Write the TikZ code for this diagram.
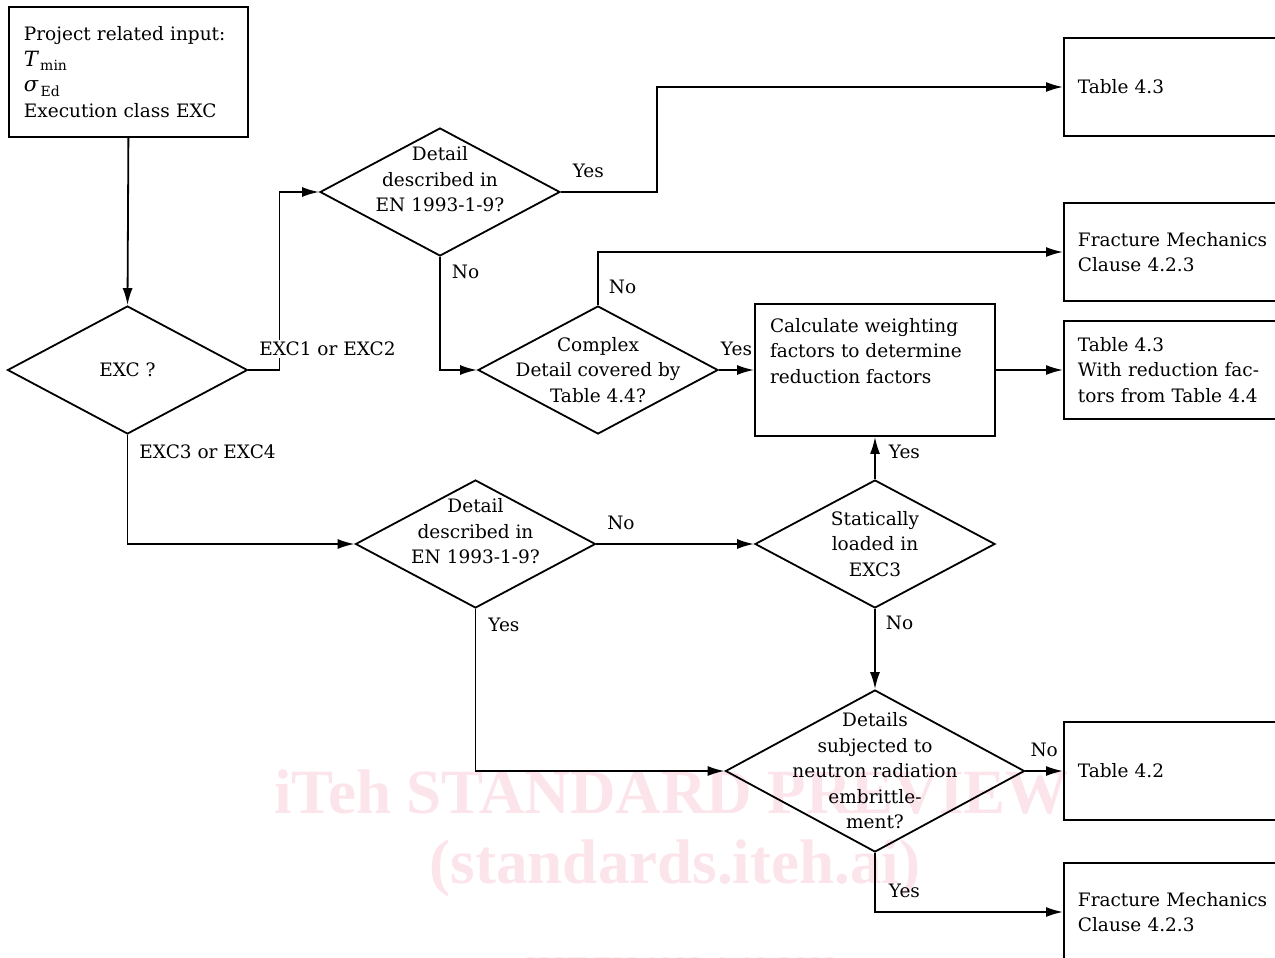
\documentclass[tikz,border=0pt]{standalone}
\usepackage{fontspec}
\setmainfont{DejaVu Serif}
\newfontfamily\wmfont{Liberation Serif}
\usetikzlibrary{shapes.geometric,arrows.meta}

\definecolor{wmpink}{RGB}{252,228,235}
\newcommand{\bigsym}[1]{{\fontsize{21}{21}\selectfont\itshape #1}}
\newcommand{\lowsub}[1]{\raisebox{-0.5ex}{\fontsize{14}{14}\selectfont\,#1}}

\tikzset{
  flow/.style={-{Latex[length=17pt,width=10pt]}},
  inbox/.style={draw, anchor=north west, minimum width=239pt, minimum height=130pt,
    text width=209pt, inner xsep=15pt, align=left},
  decision/.style={draw, diamond, minimum width=240pt, minimum height=128pt,
    inner sep=-30pt, align=center},
  calcbox/.style={draw, minimum width=240pt, minimum height=132pt, inner xsep=15pt, inner ysep=14pt},
  outbox/.style={draw, anchor=west, minimum height=98pt, text width=212pt,
    inner xsep=14pt, align=left},
  lbl/.style={inner sep=2pt},
  wm/.style={text=wmpink, font=\wmfont\bfseries\fontsize{63}{63}\selectfont}
}

\begin{document}
\begin{tikzpicture}[x=1pt, y=-1pt, line width=1.8pt, font=\fontsize{18.5}{25.5}\selectfont]
  \useasboundingbox (0,0) rectangle (1275,958);
  \clip (0,0) rectangle (1275,958);

  % watermark
  \node[wm, anchor=base west] (wm1) at (270,813) {iTeh STANDARD PREVIEW};
  \node[wm] (wm2) at (675,868) {(standards.iteh.ai)};
  \node[wm, font=\wmfont\bfseries\fontsize{30}{30}\selectfont, anchor=north] (wm3) at (680,953) {SIST EN 1993-1-10:2023};

  % boxes and decisions
  \node[inbox] (input) at (8,6) {Project related input:\\ \bigsym{T}\lowsub{min}\\ \bigsym{σ}\lowsub{Ed}\\ Execution class EXC};
  \node[decision] (exc) at (127.5,370) {EXC ?};
  \node[decision] (dtop) at (440,192) {Detail\\ described in\\ EN 1993-1-9?\\ \mbox{}};
  \node[decision] (cplx) at (598,370) {Complex\\ Detail covered by\\ Table 4.4?};
  \node[calcbox] (calc) at (875,370) {\parbox[c][104pt][t]{210pt}{Calculate weighting\\ factors to determine\\ reduction factors}};
  \node[decision] (dbot) at (475.5,544) {Detail\\ described in\\ EN 1993-1-9?\\ \mbox{}};
  \node[decision] (stat) at (875,544) {Statically\\ loaded in\\ EXC3};
  \node[decision, minimum width=299pt, minimum height=162pt] (neut) at (875,771)
    {Details\\ subjected to\\ neutron radiation\\ embrittle-\\ ment?};

  \node[outbox] (t43) at (1063,87) {Table 4.3};
  \node[outbox] (fm1) at (1063,252) {Fracture Mechanics\\ Clause 4.2.3};
  \node[outbox] (t43r) at (1063,370) {Table 4.3\\ With reduction fac-\\ tors from Table 4.4};
  \node[outbox] (t42) at (1063,771) {Table 4.2};
  \node[outbox] (fm2) at (1063,912) {Fracture Mechanics\\ Clause 4.2.3};

  % connectors
  \draw[flow] (input.south) -- (exc.north);
  \draw[flow] (exc.east) node[lbl, fill=white, anchor=south west, xshift=8pt, yshift=11pt] (l1) {EXC1 or EXC2}
    -- ++(31,0) |- (dtop.west);
  \draw[flow] (dtop.east) node[lbl, anchor=south west, xshift=9pt, yshift=11pt] (l2) {Yes}
    -- ++(96,0) |- (t43.west);
  \draw[flow] (dtop.south) node[lbl, anchor=north west, xshift=9pt, yshift=-5pt] (l3) {No} |- (cplx.west);
  \draw[flow] (cplx.north) node[lbl, anchor=south west, xshift=8pt, yshift=8pt] (l4) {No} |- (fm1.west);
  \draw[flow] (cplx.east) -- (calc.west) node[lbl, midway, above, yshift=11pt] (l5) {Yes};
  \draw[flow] (calc.east) -- (t43r.west);
  \draw[flow] (exc.south) node[lbl, anchor=north west, xshift=9pt, yshift=-7pt] (l6) {EXC3 or EXC4} |- (dbot.west);
  \draw[flow] (dbot.east) node[lbl, anchor=south west, xshift=8pt, yshift=11pt] (l7) {No} -- (stat.west);
  \draw[flow] (dbot.south) node[lbl, anchor=north west, xshift=10pt, yshift=-6pt] (l8) {Yes} |- (neut.west);
  \draw[flow] (stat.north) -- (calc.south) node[lbl, midway, right, xshift=11pt, yshift=6pt] (l9) {Yes};
  \draw[flow] (stat.south) node[lbl, anchor=north west, xshift=8pt, yshift=-4pt] (l10) {No} -- (neut.north);
  \draw[flow] (neut.east) -- (t42.west) node[lbl, midway, above, yshift=11pt] (l11) {No};
  \draw[flow] (neut.south) |- (fm2.west) node[lbl, pos=0.5, anchor=south west, xshift=11pt, yshift=11pt] (l12) {Yes};
\end{tikzpicture}
\end{document}
